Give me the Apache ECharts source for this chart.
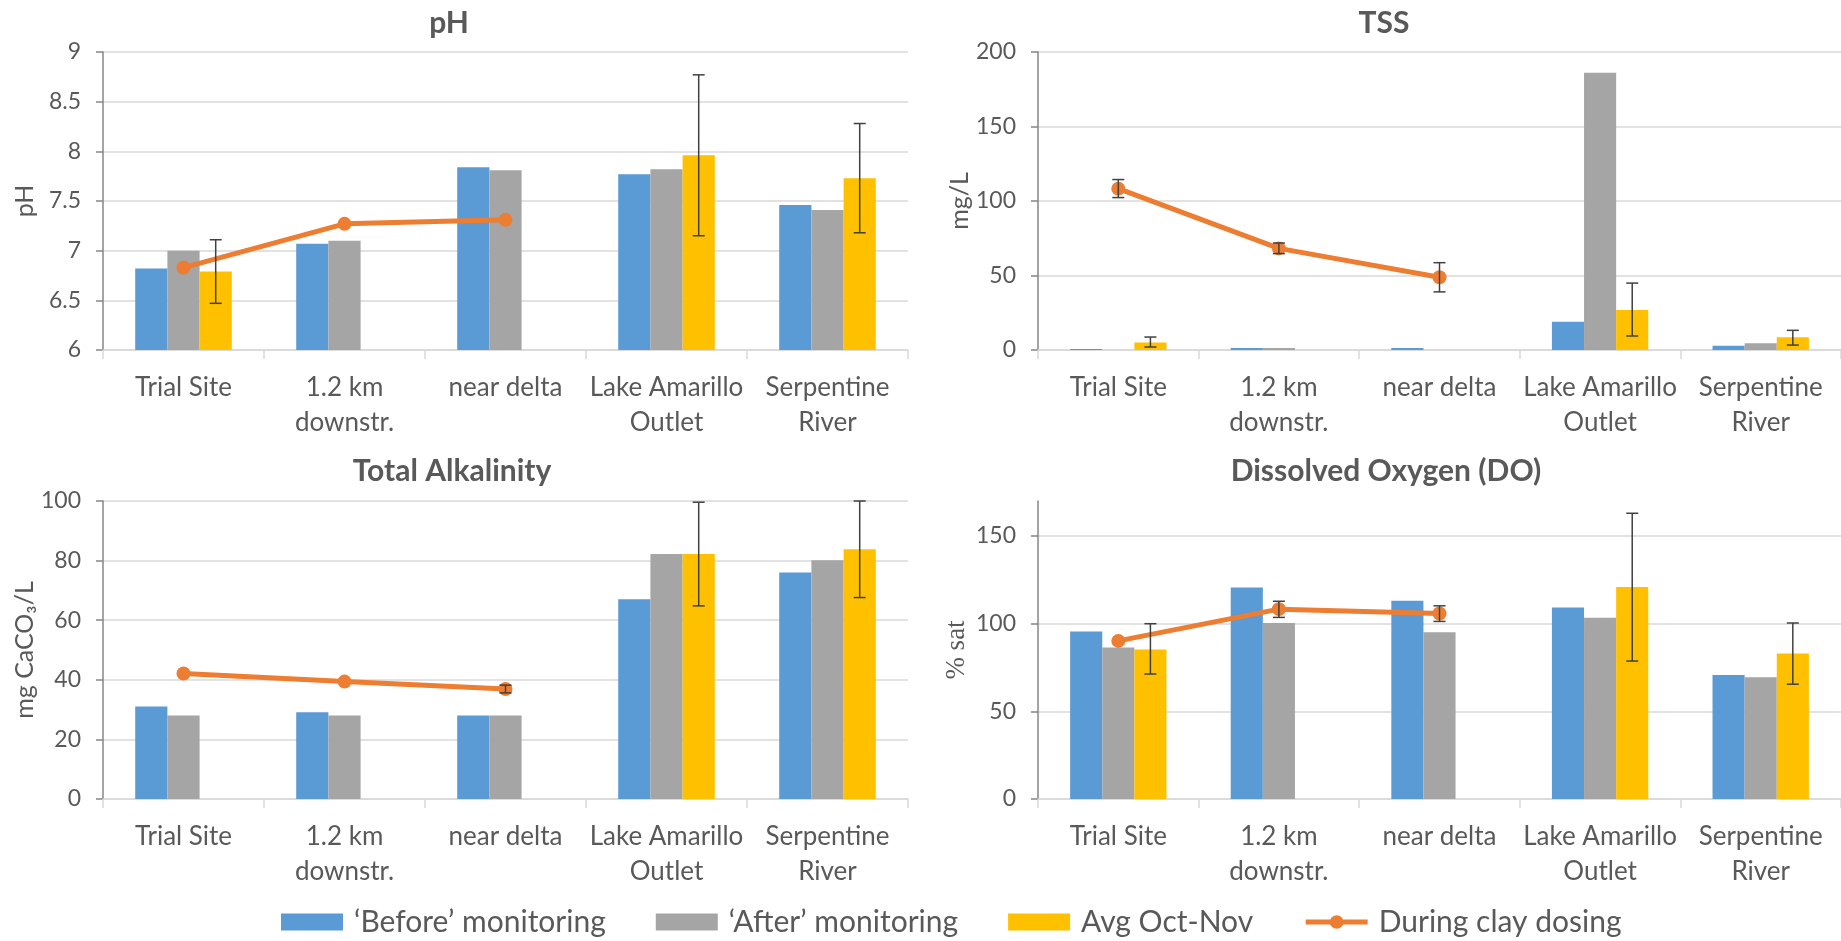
<!DOCTYPE html>
<html><head><meta charset="utf-8">
<script src="https://cdn.jsdelivr.net/npm/echarts@6/dist/echarts.min.js"></script>
<style>html,body{margin:0;padding:0;background:#fff}#c{width:1841px;height:941px}</style>
</head><body><div id="c"></div>
<script>
// ---------- DATA ----------
const categories = ['Trial Site', '1.2 km\ndownstr.', 'near delta', 'Lake Amarillo\nOutlet', 'Serpentine\nRiver'];
const seriesNames = ['\u2018Before\u2019 monitoring', '\u2018After\u2019 monitoring', 'Avg Oct-Nov', 'During clay dosing'];
const panelTitles = ['pH', 'TSS', 'Total Alkalinity', 'Dissolved Oxygen (DO)'];
const axisNames = ['pH', 'mg/L', 'mg CaCO\u2083/L', '% sat'];

// pH
const phTicks = [6, 6.5, 7, 7.5, 8, 8.5, 9];
const phBefore = [6.82, 7.07, 7.84, 7.77, 7.46];
const phAfter = [7.00, 7.10, 7.81, 7.82, 7.41];
const phAvg = [6.79, null, null, 7.96, 7.73];
const phAvgLow = [6.47, null, null, 7.15, 7.18];
const phAvgHigh = [7.11, null, null, 8.77, 8.28];
const phDosing = [6.83, 7.27, 7.31, null, null];
const phDosingLow = [null, null, null, null, null];
const phDosingHigh = [null, null, null, null, null];

// TSS
const tssTicks = [0, 50, 100, 150, 200];
const tssBefore = [0.7, 1.3, 1.3, 19.0, 2.9];
const tssAfter = [null, 1.3, null, 186.0, 4.5];
const tssAvg = [5.1, null, null, 26.8, 8.5];
const tssAvgLow = [2.0, null, null, 9.4, 3.3];
const tssAvgHigh = [8.7, null, null, 44.9, 13.2];
const tssDosing = [108.3, 68.2, 48.8, null, null];
const tssDosingLow = [102.3, 64.7, 39.0, null, null];
const tssDosingHigh = [114.4, 71.8, 58.6, null, null];

// Total Alkalinity
const alkTicks = [0, 20, 40, 60, 80, 100];
const alkBefore = [31.0, 29.1, 28.0, 67.0, 76.0];
const alkAfter = [28.0, 28.0, 28.0, 82.2, 80.1];
const alkAvg = [null, null, null, 82.2, 83.8];
const alkAvgLow = [null, null, null, 64.8, 67.6];
const alkAvgHigh = [null, null, null, 99.6, 100];
const alkDosing = [42.1, 39.4, 36.9, null, null];
const alkDosingLow = [null, null, 35.6, null, null];
const alkDosingHigh = [null, null, 38.2, null, null];

// Dissolved Oxygen
const doTicks = [0, 50, 100, 150];
const doAxisMax = 170;
const doBefore = [95.5, 120.6, 113.1, 109.3, 70.8];
const doAfter = [86.4, 100.4, 95.1, 103.4, 69.4];
const doAvg = [85.3, null, null, 120.9, 83.0];
const doAvgLow = [71.3, null, null, 78.7, 65.5];
const doAvgHigh = [100.0, null, null, 163.0, 100.4];
const doDosing = [90.2, 108.3, 105.8, null, null];
const doDosingLow = [null, 103.6, 101.3, null, null];
const doDosingHigh = [null, 112.8, 110.2, null, null];

// ---------- STYLE ----------
const FONT = 'Lato, "Open Sans", sans-serif';
const TXT = '#595959';
const COLORS = ['#5B9BD5', '#A5A5A5', '#FFC000', '#ED7D31'];
const ERR = '#404040';

const panels = [
  {ticks: phTicks, max: null, before: phBefore, after: phAfter, avg: phAvg, avgLow: phAvgLow, avgHigh: phAvgHigh, dos: phDosing, dosLow: phDosingLow, dosHigh: phDosingHigh},
  {ticks: tssTicks, max: null, before: tssBefore, after: tssAfter, avg: tssAvg, avgLow: tssAvgLow, avgHigh: tssAvgHigh, dos: tssDosing, dosLow: tssDosingLow, dosHigh: tssDosingHigh},
  {ticks: alkTicks, max: null, before: alkBefore, after: alkAfter, avg: alkAvg, avgLow: alkAvgLow, avgHigh: alkAvgHigh, dos: alkDosing, dosLow: alkDosingLow, dosHigh: alkDosingHigh},
  {ticks: doTicks, max: doAxisMax, before: doBefore, after: doAfter, avg: doAvg, avgLow: doAvgLow, avgHigh: doAvgHigh, dos: doDosing, dosLow: doDosingLow, dosHigh: doDosingHigh}
];

const gridPos = [
  {left: 103, top: 52, width: 805, height: 298},
  {left: 1038, top: 52, width: 803, height: 298},
  {left: 103, top: 501, width: 805, height: 298},
  {left: 1038, top: 501, width: 803, height: 298}
];
const titlePos = [[449, 8], [1384, 8], [452, 456], [1386, 456]];
const nameGaps = [66, 66, 62, 68];

function errData(low, high) {
  const out = [];
  for (let i = 0; i < low.length; i++) {
    if (low[i] != null && high[i] != null) out.push([i, low[i], high[i]]);
  }
  return out;
}

function errRender(offsetFrac) {
  return function (params, api) {
    const xi = api.value(0);
    const band = api.size([1, 0])[0];
    const pLo = api.coord([xi, api.value(1)]);
    const pHi = api.coord([xi, api.value(2)]);
    const x = pLo[0] + band * offsetFrac;
    const cap = 6;
    const st = {stroke: ERR, lineWidth: 1.5};
    return {
      type: 'group',
      children: [
        {type: 'line', shape: {x1: x, y1: pHi[1], x2: x, y2: pLo[1]}, style: st},
        {type: 'line', shape: {x1: x - cap, y1: pHi[1], x2: x + cap, y2: pHi[1]}, style: st},
        {type: 'line', shape: {x1: x - cap, y1: pLo[1], x2: x + cap, y2: pLo[1]}, style: st}
      ]
    };
  };
}

const grid = [], xAxis = [], yAxis = [], series = [], title = [];
panels.forEach((p, i) => {
  grid.push(Object.assign({containLabel: false}, gridPos[i]));
  title.push({
    text: panelTitles[i], left: titlePos[i][0], top: titlePos[i][1], padding: 0,
    textAlign: 'center', textVerticalAlign: 'top',
    textStyle: {fontFamily: FONT, fontSize: 30, fontWeight: 'bold', color: TXT}
  });
  xAxis.push({
    type: 'category', gridIndex: i, data: categories, boundaryGap: true,
    axisLine: {lineStyle: {color: '#D9D9D9', width: 1.5}},
    axisTick: {show: true, length: 9, lineStyle: {color: '#D9D9D9', width: 1.5}},
    axisLabel: {interval: 0, margin: 20, fontFamily: FONT, fontSize: 26, lineHeight: 35, color: TXT}
  });
  const t = p.ticks;
  yAxis.push({
    type: 'value', gridIndex: i,
    min: t[0], max: p.max != null ? p.max : t[t.length - 1], interval: t[1] - t[0],
    name: axisNames[i], nameLocation: 'middle', nameRotate: 90, nameGap: nameGaps[i],
    nameTextStyle: {fontFamily: i === 3 ? '"Liberation Serif", serif' : FONT, fontSize: i === 3 ? 27 : 25, color: TXT},
    axisLine: {show: true, lineStyle: {color: '#868686', width: 1.5}},
    axisTick: {show: true, length: 7, lineStyle: {color: '#868686', width: 1.5}},
    axisLabel: {margin: 22, fontFamily: FONT, fontSize: 23, color: TXT, showMaxLabel: p.max == null},
    splitLine: {show: true, showMaxLine: p.max == null, lineStyle: {color: '#D9D9D9', width: 1.5}}
  });
  const bars = [p.before, p.after, p.avg];
  bars.forEach((d, k) => {
    series.push({
      type: 'bar', name: seriesNames[k], xAxisIndex: i, yAxisIndex: i,
      data: d.map(v => v == null ? '-' : v),
      barGap: '0%', barCategoryGap: '40%',
      itemStyle: {color: COLORS[k]}, z: 2
    });
  });
  series.push({
    type: 'line', name: seriesNames[3], xAxisIndex: i, yAxisIndex: i,
    data: p.dos.map(v => v == null ? '-' : v),
    symbol: 'circle', symbolSize: 14, lineStyle: {color: COLORS[3], width: 5},
    itemStyle: {color: COLORS[3]}, z: 3
  });
  series.push({
    type: 'custom', name: 'err-avg', xAxisIndex: i, yAxisIndex: i,
    renderItem: errRender(0.2), data: errData(p.avgLow, p.avgHigh), z: 5, silent: true
  });
  series.push({
    type: 'custom', name: 'err-dos', xAxisIndex: i, yAxisIndex: i,
    renderItem: errRender(0), data: errData(p.dosLow, p.dosHigh), z: 5, silent: true
  });
});

const chart = echarts.init(document.getElementById('c'), null, {renderer: 'canvas'});
chart.setOption({
  animation: false,
  backgroundColor: '#fff',
  title: title,
  grid: grid,
  xAxis: xAxis,
  yAxis: yAxis,
  legend: {
    data: [
      {name: seriesNames[0], icon: 'rect'},
      {name: seriesNames[1], icon: 'rect'},
      {name: seriesNames[2], icon: 'rect'},
      {name: seriesNames[3], lineStyle: {width: 5, color: COLORS[3]}, itemStyle: {color: COLORS[3]}}
    ],
    left: 276, top: 902, itemWidth: 62, itemHeight: 17, itemGap: 50,
    textStyle: {fontFamily: FONT, fontSize: 30, color: TXT, padding: [0, 0, 0, 6]}
  },
  series: series
});
</script>
</body></html>
